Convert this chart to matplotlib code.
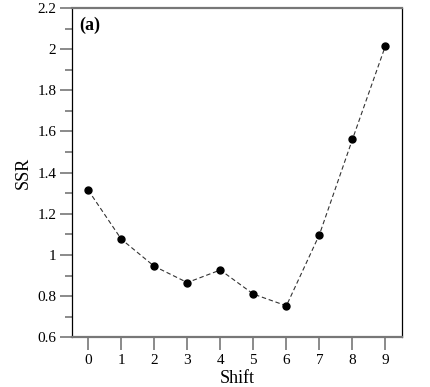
import matplotlib
matplotlib.use("Agg")
import matplotlib.pyplot as plt

shift = [0, 1, 2, 3, 4, 5, 6, 7, 8, 9]
ssr = [1.315, 1.077, 0.945, 0.866, 0.927, 0.810, 0.753, 1.099, 1.562, 2.017]
yticks = [0.6, 0.8, 1.0, 1.2, 1.4, 1.6, 1.8, 2.0, 2.2]
yticklabels = ['0.6', '0.8', '1', '1.2', '1.4', '1.6', '1.8', '2', '2.2']
yminor = [0.7, 0.9, 1.1, 1.3, 1.5, 1.7, 1.9, 2.1]

plt.rcParams['font.family'] = ['Liberation Serif', 'DejaVu Serif']

fig = plt.figure(figsize=(4.3, 3.87), dpi=100)
ax = fig.add_axes([71.7/430, 1 - 337.3/387, (402 - 71.7)/430, (337.3 - 8)/387])

ax.plot(shift, ssr, linestyle=(0, (4, 2.5)), color='#333333', linewidth=0.8,
        marker='o', markersize=5, markerfacecolor='black', markeredgecolor='black')

ax.set_xlim(-0.5, 9.5)
ax.set_ylim(0.6, 2.2)
ax.set_xticks(shift)
ax.set_yticks(yticks)
ax.set_yticklabels(yticklabels)
ax.set_yticks(yminor, minor=True)

ax.tick_params(axis='both', which='major', direction='out', length=9, width=1.2,
               color='#777777', labelsize=11, pad=2)
ax.tick_params(axis='y', which='minor', direction='out', length=5, width=1.2, color='#777777')
ax.tick_params(axis='x', which='major', pad=3)

for s in ['top', 'bottom']:
    ax.spines[s].set_color('#777777')
    ax.spines[s].set_linewidth(1.6)
for s in ['left', 'right']:
    ax.spines[s].set_color('black')
    ax.spines[s].set_linewidth(0.9)

ax.set_xlabel('Shift', fontsize=13, labelpad=2)
ax.set_ylabel('SSR', fontsize=13, labelpad=4)
ax.text(0.022, 0.975, '(a)', transform=ax.transAxes, fontsize=13,
        fontweight='bold', va='top', ha='left')

fig.savefig('out.png', dpi=100)
